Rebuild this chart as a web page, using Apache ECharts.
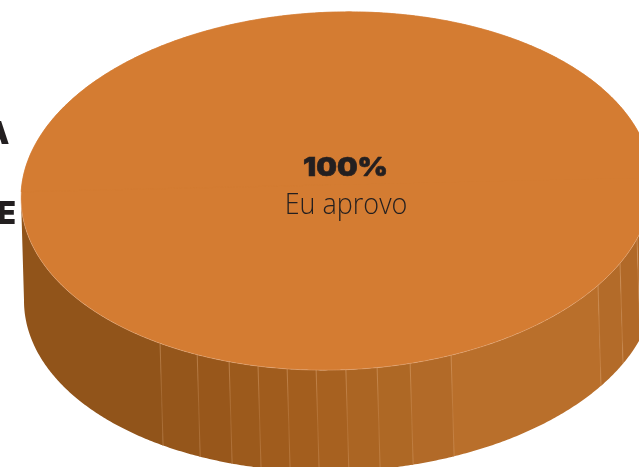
<!DOCTYPE html>
<html><head><meta charset="utf-8">
<style>html,body{margin:0;padding:0;background:#fff}#c{width:639px;height:467px}</style>
<script src="https://cdn.jsdelivr.net/npm/echarts@6/dist/echarts.min.js"></script>
</head><body><div id="c"></div>
<script>
const categories = ['Eu aprovo'];
const shares = [100];
const clippedLabels = ['A', 'E'];
const valueLabels = ['100%'];

// Disc shape (layout only): sheared ellipses for the top face and the wall's lower edge
const topFace = {cx:336.5, cy:191, a:315.5, b:179, skew:-0.0223};
const lowerEdge = {cx:339.5, cy:292.5, a:315.5, b:179, skew:-0.026};
// Wall facets, right to left: end angle (degrees, 0 = right, 90 = front) and shade
const facetEnds = [17.7,26,34,68.7,76.5,82.6,88.3,93.7,99,104.4,109.9,116.2,124,180];
const facetFills = ['#ae6727','#b16928','#b36b29','#b96f2b','#b26a28','#ae6825','#ab6523','#a76120',
                    '#a35e1e','#a05c1d','#9c5a1c','#98571b','#95561b','#91541a'];

function pt(e, deg){
  const t = deg*Math.PI/180, dx = e.a*Math.cos(t);
  return [e.cx + dx, e.cy + e.skew*dx + e.b*Math.sin(t)];
}
function arc(e, from, to){
  const out=[], n=Math.max(2,Math.ceil(Math.abs(to-from)*2));
  for(let i=0;i<=n;i++) out.push(pt(e, from+(to-from)*i/n));
  return out;
}
function renderItem(params, api){
  const sweep = api.value(0)/shares.reduce((a,b)=>a+b,0)*360;
  const children = [];
  facetEnds.forEach((end,i)=>{
    const start = i ? facetEnds[i-1] : -8;
    children.push({type:'polygon', shape:{points:arc(topFace,start,end+.15).concat(arc(lowerEdge,end+.15,start))},
      style:{fill:facetFills[i]}});
  });
  facetEnds.slice(0,-1).forEach(d=>{
    const p=pt(topFace,d), q=pt(lowerEdge,d);
    children.push({type:'line', shape:{x1:p[0],y1:p[1],x2:q[0],y2:q[1]}, style:{
      stroke:new echarts.graphic.LinearGradient(0,0,0,1,[
        {offset:0,color:'rgba(235,185,140,.6)'},{offset:.55,color:'rgba(235,185,140,.25)'},{offset:1,color:'rgba(235,185,140,.45)'}]),
      lineWidth:.7}});
  });
  children.push({type:'polygon', shape:{points:arc(topFace,0,sweep)}, style:{fill:'#d47c32', stroke:'#e4a777', lineWidth:.5}});
  children.push({type:'polygon', shape:{points:arc(topFace,182,358)}, style:{fill:'#d47c32', stroke:'#d47c32', lineWidth:.6}});
  children.push({type:'text', x:345.5, y:168, scaleX:1.12, style:{x:0,y:0,text:valueLabels[params.dataIndex],align:'center',verticalAlign:'middle',
    font:'900 26px Inter',fill:'#231f20',stroke:'#231f20',lineWidth:.6}});
  children.push({type:'text', x:346, y:205.5, scaleX:.93, style:{x:0,y:0,text:categories[params.dataIndex],align:'center',verticalAlign:'middle',
    font:'300 29px "Open Sans"',fill:'#231f20'}});
  children.push({type:'text', style:{x:9.5,y:134.5,text:clippedLabels[0],align:'right',verticalAlign:'middle',font:'900 31px Inter',fill:'#231f20'}});
  children.push({type:'text', style:{x:16,y:215,text:clippedLabels[1],align:'right',verticalAlign:'middle',font:'900 31px Inter',fill:'#231f20'}});
  return {type:'group', children};
}
const chart = echarts.init(document.getElementById('c'), null, {renderer:'canvas'});
chart.setOption({
  animation:false,
  backgroundColor:'#fff',
  series:[{type:'custom', coordinateSystem:'none', renderItem, data:shares.map(v=>[v]), silent:true, clip:false}]
});
</script></body></html>
